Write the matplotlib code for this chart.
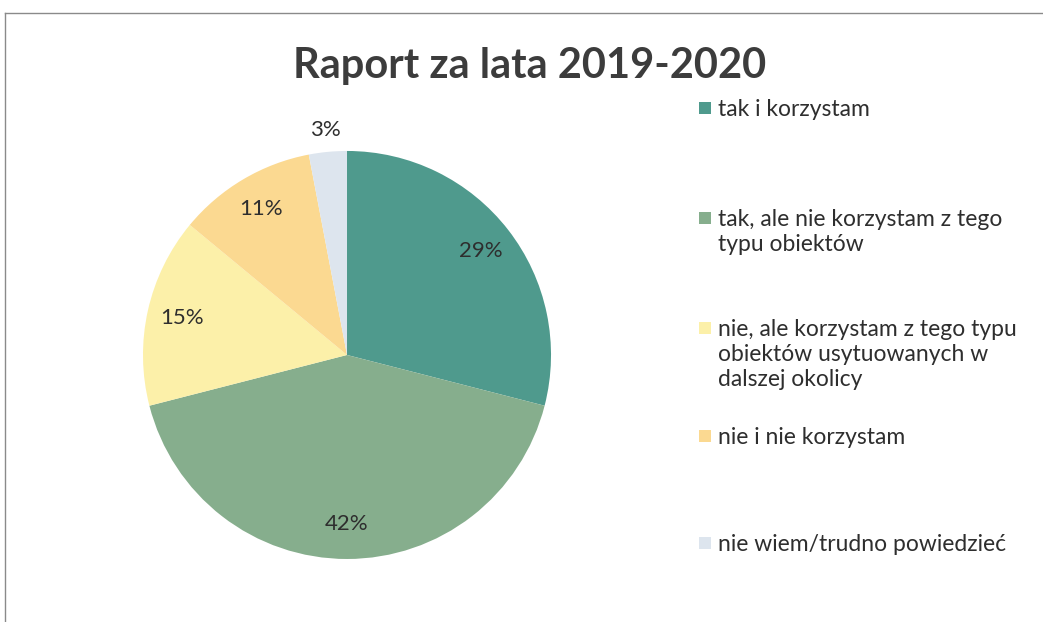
import matplotlib
matplotlib.use("Agg")
import matplotlib.pyplot as plt
from matplotlib.patches import Rectangle
from matplotlib.lines import Line2D
import numpy as np

plt.rcParams['font.family'] = ['Lato', 'DejaVu Sans']

# data
categories = [
    "tak i korzystam",
    "tak, ale nie korzystam z tego\ntypu obiektów",
    "nie, ale korzystam z tego typu\nobiektów usytuowanych w\ndalszej okolicy",
    "nie i nie korzystam",
    "nie wiem/trudno powiedzieć",
]
shares = [29, 42, 15, 11, 3]
colors = ["#4f9a8d", "#86ae8d", "#fcf0a9", "#fbd991", "#dde5ee"]

fig = plt.figure(figsize=(10.43, 6.22), dpi=100)
fig.patch.set_facecolor("white")

# pie axes: centre ~ (347, 355) px, radius ~ 204 px
ax = fig.add_axes([0.1371, 0.1013, 0.3912, 0.656])
wedges, texts, autotexts = ax.pie(
    shares, colors=colors, startangle=90, counterclock=False,
    autopct=lambda p: f"{p:.0f}%", pctdistance=0.83,
    textprops={'fontsize': 16, 'color': '#2e2e2e'},
    wedgeprops={'linewidth': 0})
ax.set_xlim(-1, 1)
ax.set_ylim(-1, 1)
ax.set_aspect('equal')
ax.axis('off')

# the small slice has its label outside the pie
w = wedges[-1]
mid = np.deg2rad((w.theta1 + w.theta2) / 2)
autotexts[-1].set_position((1.11 * np.cos(mid), 1.11 * np.sin(mid)))

fig.text(0.508, 1 - 66 / 622, "Raport za lata 2019-2020", ha='center', va='center',
         fontsize=30, fontweight='bold', color='#3c3c3c')

# legend entries at uneven heights like the original
legend_y = [108, 218, 328, 436, 543]
W, H = 1043, 622
for cat, col, y in zip(categories, colors, legend_y):
    fig.patches.append(Rectangle((699 / W, 1 - (y + 6) / H), 12 / W, 12 / H,
                                 facecolor=col, edgecolor='none',
                                 transform=fig.transFigure, figure=fig))
    fig.text(718 / W, 1 - (y - 9) / H, cat, ha='left', va='top',
             fontsize=16.5, color='#2e2e2e', linespacing=1.25)

# scanned page border
fig.add_artist(Line2D([5 / W, 1], [1 - 13 / H, 1 - 13 / H], color='#8a8a8a',
                      lw=1, transform=fig.transFigure))
fig.add_artist(Line2D([5 / W, 5 / W], [0, 1 - 13 / H], color='#8a8a8a',
                      lw=1, transform=fig.transFigure))

fig.savefig("out.png", dpi=100)
